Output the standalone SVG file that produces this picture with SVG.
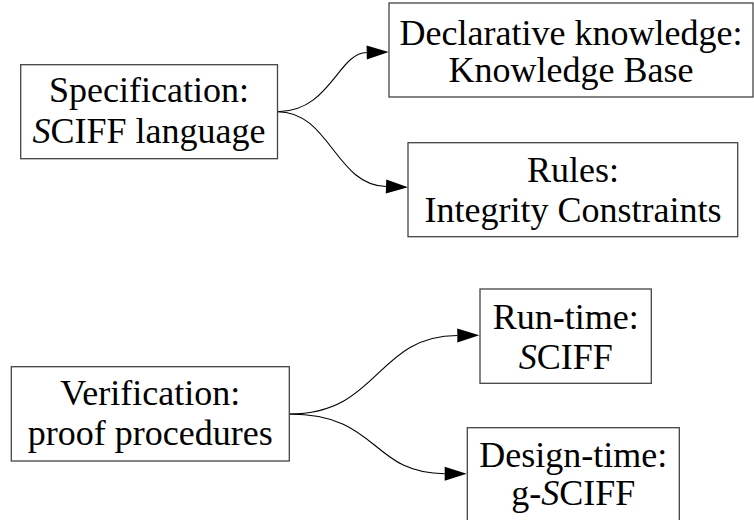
<svg xmlns="http://www.w3.org/2000/svg" width="754" height="520" viewBox="0 0 754 520" font-family="Liberation Serif, serif">
<defs>
<style>
.box{fill:#fff;stroke:#444;stroke-width:1.3}
.t{font-family:'Liberation Serif',serif;font-size:36px;fill:#000;text-anchor:middle}
.e{fill:none;stroke:#000;stroke-width:1.1}
</style>
<marker id="ah" markerUnits="userSpaceOnUse" markerWidth="24" markerHeight="16" refX="0" refY="7" orient="auto" viewBox="0 0 24 16" overflow="visible">
<path d="M0,0 L22,7 L0,14 z" fill="#000"/>
</marker>
</defs>
<rect width="754" height="520" fill="#fff"/>
<g id="edges">
<path class="e" marker-end="url(#ah)" d="M277.5,111.7 C330,111.7 338,53 366.7,52.5"/>
<path class="e" marker-end="url(#ah)" d="M277.5,111.7 C330,111.7 335,185 386,186.5"/>
<path class="e" marker-end="url(#ah)" d="M289.3,414 C380,414 375,336 457.3,335.5"/>
<path class="e" marker-end="url(#ah)" d="M289.3,414 C380,414 370,473.5 444.7,473.7"/>
</g>
<g id="spec">
<rect class="box" x="20.7" y="64.7" width="256.8" height="94"/>
<text class="t" x="149" y="102">Specification:</text>
<text class="t" x="149" y="142.7"><tspan font-style="italic">S</tspan>CIFF language</text>
</g>
<g id="decl">
<rect class="box" x="389" y="3" width="364" height="94"/>
<text class="t" x="571" y="45">Declarative knowledge:</text>
<text class="t" x="571" y="82">Knowledge Base</text>
</g>
<g id="rules">
<rect class="box" x="408" y="142.7" width="329.7" height="94"/>
<text class="t" x="573" y="181.7">Rules:</text>
<text class="t" x="573" y="221.7">Integrity Constraints</text>
</g>
<g id="verif">
<rect class="box" x="11.3" y="366.7" width="278" height="94.3"/>
<text class="t" x="150.3" y="405">Verification:</text>
<text class="t" x="150.3" y="445">proof procedures</text>
</g>
<g id="runtime">
<rect class="box" x="480" y="289" width="171.3" height="94.3"/>
<text class="t" x="565.7" y="329.3">Run-time:</text>
<text class="t" x="565.7" y="369.3"><tspan font-style="italic">S</tspan>CIFF</text>
</g>
<g id="designtime">
<rect class="box" x="467.3" y="427.7" width="212" height="94"/>
<text class="t" x="573.3" y="466.7">Design-time:</text>
<text class="t" x="573.3" y="505">g-<tspan font-style="italic">S</tspan>CIFF</text>
</g>
</svg>
